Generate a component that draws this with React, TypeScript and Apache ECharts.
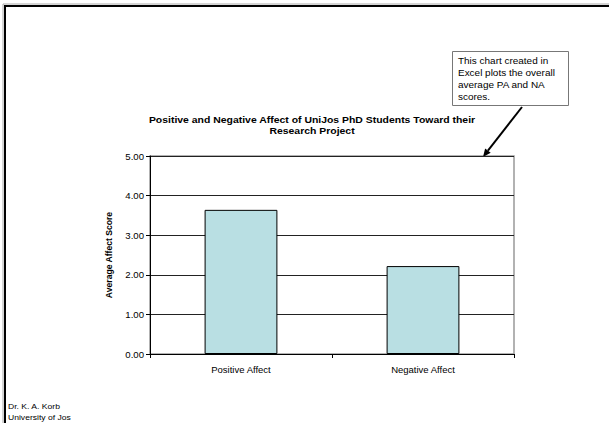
import React, { useEffect, useRef } from "react";
import * as echarts from "echarts";

const categories = ["Positive Affect", "Negative Affect"];
const affectScores = [3.64, 2.22];
const titleLines = [
  "Positive and Negative Affect of UniJos PhD Students Toward their",
  "Research Project",
];
const noteLines = [
  "This chart created in",
  "Excel plots the overall",
  "average PA and NA",
  "scores.",
];
const footerLines = ["Dr. K. A. Korb", "University of Jos"];
const yAxisName = "Average Affect Score";

const FONT = "'Liberation Sans', Arial, sans-serif";

export default function App() {
  const ref = useRef<HTMLDivElement>(null);
  useEffect(() => {
    if (!ref.current) return;
    const chart = echarts.init(ref.current, undefined, { renderer: "svg" });

    const tip = [483, 157];
    const start = [522, 107];
    const dx = tip[0] - start[0];
    const dy = tip[1] - start[1];
    const len = Math.sqrt(dx * dx + dy * dy);
    const ux = dx / len;
    const uy = dy / len;
    const headL = 8;
    const headW = 3.5;
    const base = [tip[0] - ux * headL, tip[1] - uy * headL];
    const px = -uy * headW;
    const py = ux * headW;

    const graphics: any[] = [
      // page frame
      { type: "line", shape: { x1: 3, y1: 4, x2: 609, y2: 4 }, style: { stroke: "#aaa", lineWidth: 1 } },
      { type: "line", shape: { x1: 4, y1: 6, x2: 609, y2: 6 }, style: { stroke: "#000", lineWidth: 2 } },
      { type: "line", shape: { x1: 3, y1: 4, x2: 3, y2: 423 }, style: { stroke: "#aaa", lineWidth: 1 } },
      { type: "line", shape: { x1: 5, y1: 5, x2: 5, y2: 423 }, style: { stroke: "#000", lineWidth: 2 } },
      // annotation box
      {
        type: "rect",
        shape: { x: 452.5, y: 51.5, width: 116, height: 54 },
        style: { fill: "#fff", stroke: "#777", lineWidth: 1 },
      },
      // arrow
      {
        type: "line",
        shape: { x1: start[0], y1: start[1], x2: base[0], y2: base[1] },
        style: { stroke: "#000", lineWidth: 2 },
      },
      {
        type: "polygon",
        shape: {
          points: [
            [tip[0], tip[1]],
            [base[0] + px, base[1] + py],
            [base[0] - px, base[1] - py],
          ],
        },
        style: { fill: "#000" },
      },
    ];

    noteLines.forEach((t, i) => {
      graphics.push({
        type: "text",
        x: 458,
        y: 61 + i * 12,
        scaleX: 1.16,
        style: { text: t, fontSize: 8.6, fontFamily: FONT, fill: "#000", textVerticalAlign: "middle", textAlign: "left" },
      });
    });
    titleLines.forEach((t, i) => {
      graphics.push({
        type: "text",
        x: 312,
        y: 120 + i * 11,
        scaleX: 1.16,
        style: { text: t, fontSize: 9, fontWeight: "bold", fontFamily: FONT, fill: "#000", textVerticalAlign: "middle", textAlign: "center" },
      });
    });
    footerLines.forEach((t, i) => {
      graphics.push({
        type: "text",
        x: 8,
        y: 407 + i * 11,
        scaleX: 1.1,
        style: { text: t, fontSize: 7.8, fontFamily: FONT, fill: "#000", textVerticalAlign: "middle", textAlign: "left" },
      });
    });

    chart.setOption({
      animation: false,
      backgroundColor: "#fff",
      grid: {
        left: 150,
        top: 156,
        width: 364,
        height: 198,
        show: true,
        borderColor: "#999",
        borderWidth: 1.5,
        backgroundColor: "transparent",
      },
      xAxis: {
        type: "category",
        data: categories,
        axisLine: { lineStyle: { color: "#000", width: 1 } },
        axisTick: { show: true, alignWithLabel: false, length: 4, lineStyle: { color: "#000" } },
        axisLabel: { fontSize: 9.5, fontFamily: FONT, color: "#000", margin: 10 },
        splitLine: { show: false },
      },
      yAxis: {
        type: "value",
        min: 0,
        max: 5,
        interval: 1,
        name: yAxisName,
        nameLocation: "middle",
        nameRotate: 90,
        nameGap: 37,
        nameTextStyle: { fontSize: 8.6, fontWeight: "bold", fontFamily: FONT, color: "#000" },
        axisLine: { show: true, lineStyle: { color: "#000", width: 1 } },
        axisTick: { show: true, length: 4, lineStyle: { color: "#000" } },
        axisLabel: {
          fontSize: 9.6,
          fontFamily: FONT,
          color: "#000",
          margin: 6,
          formatter: (v: number) => v.toFixed(2),
        },
        splitLine: { show: true, lineStyle: { color: "#222", width: 1 } },
      },
      series: [
        {
          type: "bar",
          data: affectScores,
          barWidth: "40%",
          itemStyle: { color: "#B9DFE3", borderColor: "#000", borderWidth: 1 },
        },
      ],
      graphic: graphics,
    });
    return () => chart.dispose();
  }, []);

  return (
    <div
      ref={ref}
      style={{ position: "fixed", left: 0, top: 0, width: 609, height: 423, background: "#fff" }}
    />
  );
}
